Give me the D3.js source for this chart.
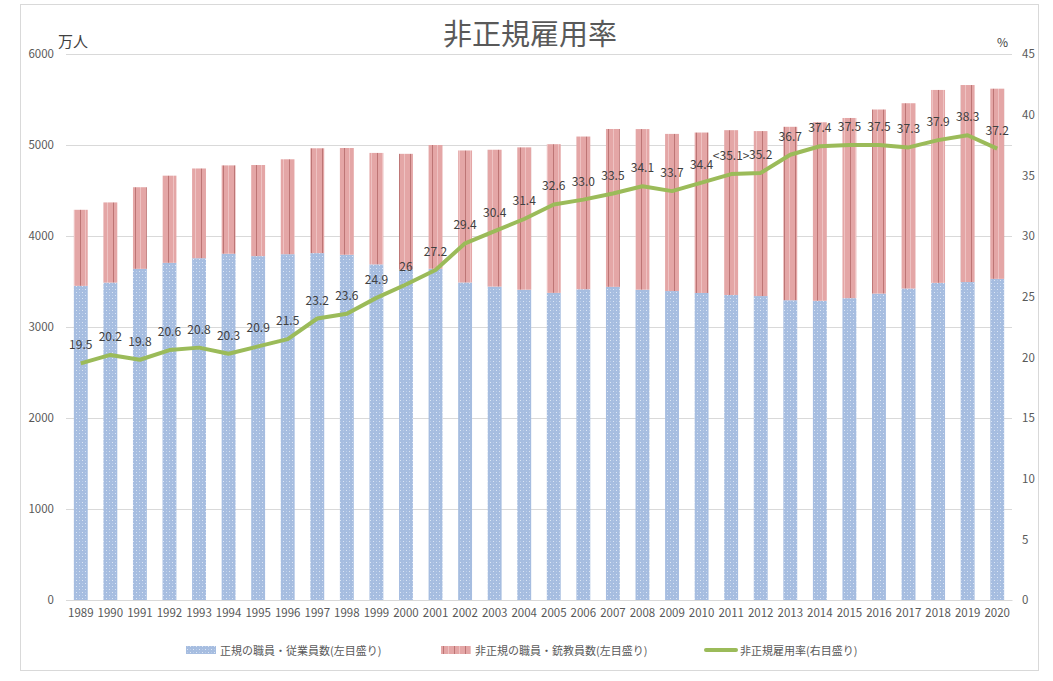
<!DOCTYPE html>
<html><head><meta charset="utf-8">
<script src="https://cdn.jsdelivr.net/npm/d3@7"></script>
<style>
body{margin:0;background:#fff;}
text{font-family:"Noto Sans CJK JP","Noto Sans",sans-serif;}
</style></head>
<body><svg id="c" width="1053" height="681"></svg>
<script>
const years = [1989,1990,1991,1992,1993,1994,1995,1996,1997,1998,1999,2000,2001,2002,2003,2004,2005,2006,2007,2008,2009,2010,2011,2012,2013,2014,2015,2016,2017,2018,2019,2020];
const regular = [3452,3488,3639,3705,3756,3805,3779,3800,3812,3794,3688,3630,3640,3489,3444,3410,3375,3415,3441,3410,3395,3374,3352,3340,3294,3288,3317,3367,3423,3485,3494,3529];
const nonRegular = [836,881,897,958,986,971,1001,1043,1152,1173,1225,1273,1360,1451,1504,1564,1634,1678,1735,1765,1727,1763,1811,1813,1906,1962,1980,2023,2036,2120,2165,2090];
const rate = [19.5,20.2,19.8,20.6,20.8,20.3,20.9,21.5,23.2,23.6,24.9,26,27.2,29.4,30.4,31.4,32.6,33.0,33.5,34.1,33.7,34.4,35.1,35.2,36.7,37.4,37.5,37.5,37.3,37.9,38.3,37.2];
const rateLabels = ["19.5","20.2","19.8","20.6","20.8","20.3","20.9","21.5","23.2","23.6","24.9","26","27.2","29.4","30.4","31.4","32.6","33.0","33.5","34.1","33.7","34.4","<35.1>","35.2","36.7","37.4","37.5","37.5","37.3","37.9","38.3","37.2"];
const leftTicks = [0,1000,2000,3000,4000,5000,6000];
const rightTicks = [0,5,10,15,20,25,30,35,40,45];
const title = "非正規雇用率";
const seriesNames = ["正規の職員・従業員数(左目盛り)","非正規の職員・銃教員数(左目盛り)","非正規雇用率(右目盛り)"];

const svg = d3.select("#c");
const L=66, R=1012, T=54, B=600;
const x = d3.scaleBand().domain(years).range([L,R]).paddingInner(0.53).paddingOuter(0.265);
const yL = d3.scaleLinear().domain([0,6000]).range([B,T]);
const yR = d3.scaleLinear().domain([0,45]).range([B,T]);
const numFont = "'Open Sans','Noto Sans',sans-serif";

const defs = svg.append("defs");
const pb = defs.append("pattern").attr("id","pBlue").attr("patternUnits","userSpaceOnUse").attr("width",6).attr("height",6);
pb.append("rect").attr("width",6).attr("height",6).attr("fill","#a6bde0");
pb.append("rect").attr("x",1).attr("y",1).attr("width",1).attr("height",1).attr("fill","#dde7f5");
pb.append("rect").attr("x",4).attr("y",4).attr("width",1).attr("height",1).attr("fill","#dde7f5");
pb.append("rect").attr("x",4).attr("y",1).attr("width",1).attr("height",1).attr("fill","#b9cbe8");
pb.append("rect").attr("x",1).attr("y",4).attr("width",1).attr("height",1).attr("fill","#b9cbe8");
const pp = defs.append("pattern").attr("id","pPink").attr("patternUnits","userSpaceOnUse").attr("width",11).attr("height",4);
pp.append("rect").attr("width",11).attr("height",4).attr("fill","#e4a6a6");
pp.append("rect").attr("x",3).attr("width",1).attr("height",4).attr("fill","#bd7575");
pp.append("rect").attr("x",8).attr("width",1).attr("height",4).attr("fill","#eec2c2");

svg.append("rect").attr("x",20.5).attr("y",4.5).attr("width",1018).attr("height",666).attr("fill","none").attr("stroke","#d9d9d9");

svg.append("g").selectAll("line").data(leftTicks).join("line")
  .attr("x1",L).attr("x2",R).attr("y1",d=>Math.round(yL(d))+0.5).attr("y2",d=>Math.round(yL(d))+0.5)
  .attr("stroke","#d9d9d9").attr("stroke-width",1);

const axL = svg.append("g").attr("transform",`translate(${L},0)`).call(d3.axisLeft(yL).tickValues(leftTicks).tickFormat(d3.format("d")).tickSize(0).tickPadding(12));
axL.select(".domain").remove();
axL.selectAll("text").attr("font-size",11.5).attr("fill","#595959").attr("font-family",numFont);

const axR = svg.append("g").attr("transform",`translate(${R},0)`).call(d3.axisRight(yR).tickValues(rightTicks).tickSize(0).tickPadding(10));
axR.select(".domain").remove();
axR.selectAll("text").attr("font-size",11.5).attr("fill","#595959").attr("font-family",numFont);

const axB = svg.append("g").attr("transform",`translate(0,${B})`).call(d3.axisBottom(x).tickSize(0).tickPadding(9));
axB.select(".domain").attr("stroke","#d9d9d9");
axB.selectAll("text").attr("font-size",11.5).attr("fill","#595959").attr("font-family",numFont);

svg.append("g").selectAll("rect").data(years).join("rect")
  .attr("x",d=>x(d)).attr("width",x.bandwidth())
  .attr("y",(d,i)=>yL(regular[i])).attr("height",(d,i)=>yL(0)-yL(regular[i]))
  .attr("fill","url(#pBlue)");
svg.append("g").selectAll("rect").data(years).join("rect")
  .attr("x",d=>x(d)).attr("width",x.bandwidth())
  .attr("y",(d,i)=>yL(regular[i]+nonRegular[i])).attr("height",(d,i)=>yL(regular[i])-yL(regular[i]+nonRegular[i]))
  .attr("fill","url(#pPink)");

const cx = d=>x(d)+x.bandwidth()/2;
svg.append("path").datum(years)
  .attr("d",d3.line().x(d=>cx(d)).y((d,i)=>yR(rate[i])))
  .attr("fill","none").attr("stroke","#9bbb59").attr("stroke-width",4).attr("stroke-linejoin","round");

svg.append("g").selectAll("text").data(years).join("text")
  .attr("x",d=>cx(d)).attr("y",(d,i)=>yR(rate[i])-14)
  .attr("text-anchor","middle").attr("font-size",12).attr("fill","#404040")
  .attr("font-family",numFont)
  .text((d,i)=>rateLabels[i]);

svg.append("text").attr("x",530).attr("y",45).attr("text-anchor","middle").attr("font-size",29).attr("fill","#595959").text(title);
svg.append("text").attr("x",58).attr("y",47).attr("font-size",15).attr("fill","#404040").text("万人");
svg.append("text").attr("x",997).attr("y",47).attr("font-size",12).attr("fill","#404040").text("%");

const lg = svg.append("g").attr("font-size",11).attr("fill","#595959");
const items = [{x:186,type:"blue"},{x:441,type:"pink"},{x:706,type:"line"}];
items.forEach((it,i)=>{
  if(it.type==="line"){
    lg.append("line").attr("x1",it.x).attr("x2",it.x+30).attr("y1",650).attr("y2",650).attr("stroke","#9bbb59").attr("stroke-width",4).attr("stroke-linecap","round");
  } else {
    lg.append("rect").attr("x",it.x).attr("y",646).attr("width",30).attr("height",8).attr("fill",it.type==="blue"?"url(#pBlue)":"url(#pPink)");
  }
  lg.append("text").attr("x",it.x+34).attr("y",654.5).text(seriesNames[i]);
});
</script></body></html>
